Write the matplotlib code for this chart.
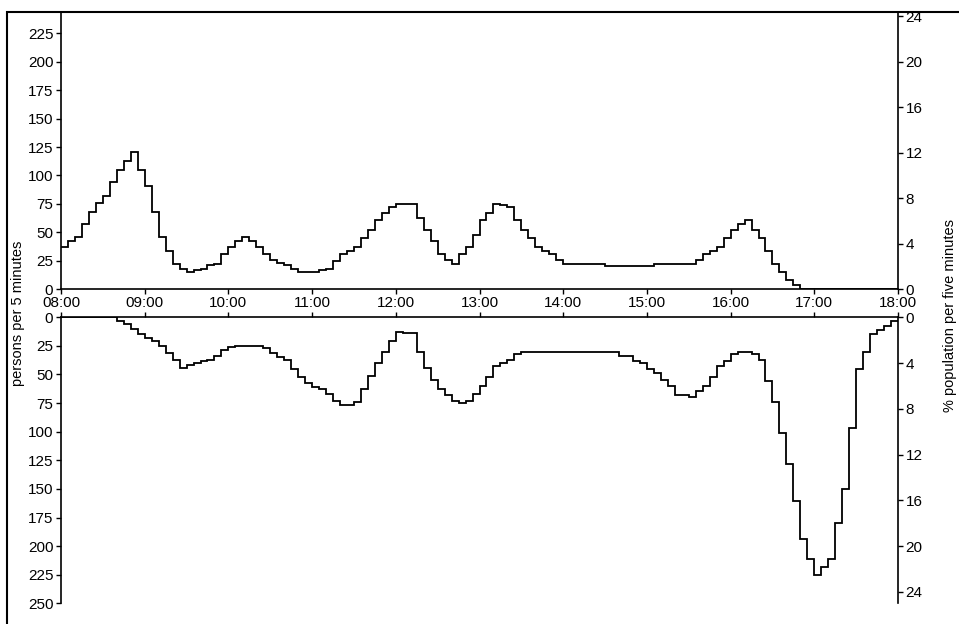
import numpy as np
import matplotlib
matplotlib.use('Agg')
import matplotlib.pyplot as plt
from matplotlib.patches import Rectangle

plt.rcParams['font.family'] = ['Liberation Sans', 'DejaVu Sans']
plt.rcParams['font.size'] = 11

# persons per 5 minutes, 08:00 - 18:00 (120 intervals)
arrivals = [37, 42, 46, 57, 68, 76, 82, 94, 105, 113, 121,
            105, 91, 68, 46, 34, 22, 18, 15, 17, 18, 21, 22,
            31, 37, 42, 46, 42, 37, 31, 26, 23, 21, 18, 15, 15, 15, 17, 18, 25, 31,
            34, 37, 45, 52, 61, 67, 72, 75, 75, 75, 63, 52, 42, 31, 26, 22, 31, 37, 48,
            61, 67, 75, 74, 72, 61, 52, 45, 37, 34, 31, 26, 22, 22, 22, 22, 22, 22,
            20.5, 20.5, 20.5, 20.5, 20.5, 20.5, 20.5,
            22, 22, 22, 22, 22, 22,
            26, 31, 34, 37, 45, 52, 57, 61, 52, 45, 34, 22, 15, 8, 4,
            0, 0, 0, 0, 0, 0, 0, 0, 0, 0, 0, 0, 0, 0]

departures = [0, 0, 0, 0, 0, 0, 0, 0,
              3, 6, 10, 15, 18, 21, 25, 31, 37, 44,
              42, 40, 38, 37, 34, 29, 26,
              25, 25, 25, 25,
              27, 31, 35, 37, 45, 52, 57, 61, 63, 67, 73, 77,
              77, 74, 63, 51, 40, 30, 21, 13, 14, 14,
              30, 44, 55, 63, 68, 73, 75, 73, 67, 60, 52, 43, 40, 37, 32,
              30, 30, 30, 30, 30, 30, 30, 30, 30, 30, 30, 30, 30, 30,
              34, 34, 38, 40, 45, 49, 55, 60, 68, 68, 70, 64, 60, 52, 43, 38, 32, 30, 30, 32,
              37, 56, 74, 101, 128, 161, 194, 211, 225, 218, 211, 180, 150, 97, 45, 30, 15, 11, 8, 3]

hour_labels = ['08:00', '09:00', '10:00', '11:00', '12:00', '13:00',
               '14:00', '15:00', '16:00', '17:00', '18:00']
population = 1000  # persons per 100 % -> right axis = left / 10

edges = 8 + np.arange(len(arrivals) + 1) / 12
hours = np.arange(8, 19)

W, H = 959, 624
fig = plt.figure(figsize=(W / 100, H / 100), dpi=100)

x0, x1 = 61, 898
ax_top = fig.add_axes([x0 / W, 1 - 289.3 / H, (x1 - x0) / W, (289.3 - 13.3) / H])
ax_bot = fig.add_axes([x0 / W, 1 - 603.3 / H, (x1 - x0) / W, (603.3 - 317.3) / H])

lw = 1.3
ax_top.stairs(arrivals, edges, baseline=None, color='black', lw=lw)
ax_bot.stairs(departures, edges, baseline=None, color='black', lw=lw)

tick_kw = dict(length=3.5, width=1, direction='out', labelsize=11, pad=2)

for ax in (ax_top, ax_bot):
    ax.set_xlim(8, 18)
    for s in ax.spines.values():
        s.set_linewidth(1.2)
    ax.tick_params(**tick_kw)

# top panel
ax_top.set_ylim(0, 242.5)
ax_top.set_yticks(np.arange(0, 226, 25))
ax_top.set_xticks(hours)
ax_top.set_xticklabels(hour_labels)
ax_top.tick_params(axis='x', pad=1.5)
ax_top.spines['top'].set_visible(False)
ax_top.spines['right'].set_visible(False)
r_top = ax_top.twinx()
r_top.set_ylim(0, 242.5 * 100 / population)
r_top.set_yticks(np.arange(0, 25, 4))
for side in ('top', 'left', 'bottom'):
    r_top.spines[side].set_visible(False)
r_top.spines['right'].set_linewidth(1.2)
r_top.tick_params(**tick_kw)

# bottom panel (inverted)
ax_bot.set_ylim(250, 0)
ax_bot.set_yticks(np.arange(0, 251, 25))
ax_bot.xaxis.tick_top()
ax_bot.set_xticks(hours)
ax_bot.set_xticklabels([])
ax_bot.spines['bottom'].set_visible(False)
ax_bot.spines['right'].set_visible(False)
r_bot = ax_bot.twinx()
r_bot.set_ylim(250 * 100 / population, 0)
r_bot.set_yticks(np.arange(0, 25, 4))
for side in ('top', 'left', 'bottom'):
    r_bot.spines[side].set_visible(False)
r_bot.spines['right'].set_linewidth(1.2)
r_bot.tick_params(**tick_kw)

fig.text(18 / W, 1 - 313 / H, 'persons per 5 minutes', rotation=90,
         ha='center', va='center', fontsize=10.5)
fig.text(950 / W, 1 - 315 / H, '% population per five minutes', rotation=90,
         ha='center', va='center', fontsize=10.5)

# outer frame (partly outside the picture)
fig.add_artist(Rectangle((7 / W, -0.1), 1.2, 1.1 - 12 / H, transform=fig.transFigure,
                         fill=False, edgecolor='black', lw=1.5))

fig.savefig('out.png', dpi=100)
